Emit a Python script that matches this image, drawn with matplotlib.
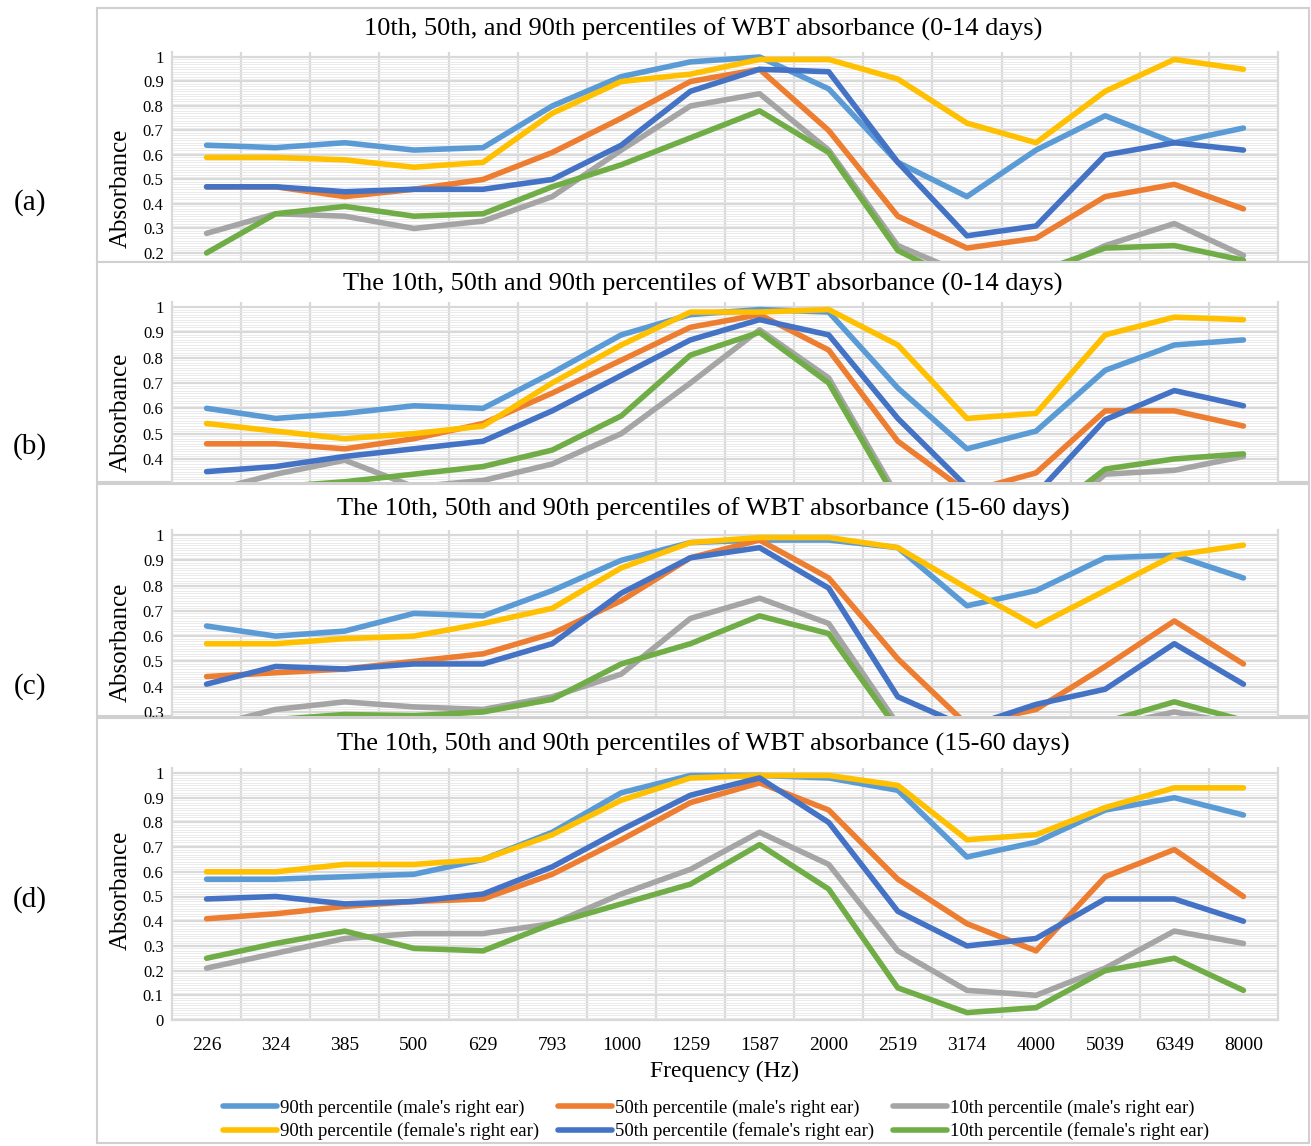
import numpy as np
import matplotlib
matplotlib.use("Agg")
import matplotlib.pyplot as plt
from matplotlib.patches import Rectangle
from matplotlib.ticker import FixedLocator

plt.rcParams['font.family'] = ['Liberation Serif', 'DejaVu Serif']

W, H = 1311, 1146

freqs = ['226', '324', '385', '500', '629', '793', '1000', '1259', '1587',
         '2000', '2519', '3174', '4000', '5039', '6349', '8000']

labels = ["90th percentile (male's right ear)", "50th percentile (male's right ear)",
          "10th percentile (male's right ear)", "90th percentile (female's right ear)",
          "50th percentile (female's right ear)", "10th percentile (female's right ear)"]
colors = ['#5B9BD5', '#ED7D31', '#A5A5A5', '#FFC000', '#4472C4', '#70AD47']

# (a) 0-14 days
m90_a = [0.64, 0.63, 0.65, 0.62, 0.63, 0.80, 0.92, 0.98, 1.00, 0.87, 0.57, 0.43, 0.62, 0.76, 0.65, 0.71]
m50_a = [0.47, 0.47, 0.43, 0.46, 0.50, 0.61, 0.75, 0.90, 0.95, 0.70, 0.35, 0.22, 0.26, 0.43, 0.48, 0.38]
m10_a = [0.28, 0.36, 0.35, 0.30, 0.33, 0.43, 0.62, 0.80, 0.85, 0.62, 0.23, 0.11, 0.10, 0.23, 0.32, 0.19]
f90_a = [0.59, 0.59, 0.58, 0.55, 0.57, 0.77, 0.90, 0.93, 0.99, 0.99, 0.91, 0.73, 0.65, 0.86, 0.99, 0.95]
f50_a = [0.47, 0.47, 0.45, 0.46, 0.46, 0.50, 0.64, 0.86, 0.95, 0.94, 0.57, 0.27, 0.31, 0.60, 0.65, 0.62]
f10_a = [0.20, 0.36, 0.39, 0.35, 0.36, 0.47, 0.56, 0.67, 0.78, 0.61, 0.21, 0.07, 0.12, 0.22, 0.23, 0.17]

# (b) 0-14 days
m90_b = [0.60, 0.56, 0.58, 0.61, 0.60, 0.74, 0.89, 0.97, 0.99, 0.98, 0.68, 0.44, 0.51, 0.75, 0.85, 0.87]
m50_b = [0.46, 0.46, 0.44, 0.48, 0.54, 0.66, 0.79, 0.92, 0.97, 0.83, 0.47, 0.27, 0.345, 0.59, 0.59, 0.53]
m10_b = [0.27, 0.34, 0.395, 0.29, 0.315, 0.38, 0.50, 0.70, 0.91, 0.72, 0.25, 0.15, 0.10, 0.34, 0.355, 0.41]
f90_b = [0.54, 0.51, 0.48, 0.50, 0.53, 0.70, 0.85, 0.98, 0.98, 0.99, 0.85, 0.56, 0.58, 0.89, 0.96, 0.95]
f50_b = [0.35, 0.37, 0.41, 0.44, 0.47, 0.59, 0.73, 0.87, 0.95, 0.89, 0.56, 0.29, 0.26, 0.555, 0.67, 0.61]
f10_b = [0.27, 0.29, 0.31, 0.34, 0.37, 0.435, 0.57, 0.81, 0.90, 0.70, 0.23, 0.12, 0.15, 0.36, 0.40, 0.42]

# (c) 15-60 days
m90_c = [0.64, 0.60, 0.62, 0.69, 0.68, 0.78, 0.90, 0.97, 0.98, 0.98, 0.95, 0.72, 0.78, 0.91, 0.92, 0.83]
m50_c = [0.44, 0.455, 0.47, 0.50, 0.53, 0.61, 0.74, 0.91, 0.98, 0.83, 0.51, 0.25, 0.31, 0.48, 0.66, 0.49]
m10_c = [0.24, 0.31, 0.34, 0.32, 0.31, 0.36, 0.45, 0.67, 0.75, 0.65, 0.25, 0.15, 0.12, 0.24, 0.30, 0.25]
f90_c = [0.57, 0.57, 0.59, 0.60, 0.65, 0.71, 0.87, 0.97, 0.99, 0.99, 0.95, 0.79, 0.64, 0.78, 0.92, 0.96]
f50_c = [0.41, 0.48, 0.47, 0.49, 0.49, 0.57, 0.77, 0.91, 0.95, 0.79, 0.36, 0.24, 0.33, 0.39, 0.57, 0.41]
f10_c = [0.26, 0.27, 0.29, 0.285, 0.30, 0.35, 0.49, 0.57, 0.68, 0.61, 0.23, 0.14, 0.12, 0.26, 0.34, 0.267]

# (d) 15-60 days
m90_d = [0.57, 0.57, 0.58, 0.59, 0.65, 0.76, 0.92, 0.99, 0.99, 0.98, 0.93, 0.66, 0.72, 0.85, 0.90, 0.83]
m50_d = [0.41, 0.43, 0.46, 0.48, 0.49, 0.59, 0.73, 0.88, 0.96, 0.85, 0.57, 0.39, 0.28, 0.58, 0.69, 0.50]
m10_d = [0.21, 0.27, 0.33, 0.35, 0.35, 0.39, 0.51, 0.61, 0.76, 0.63, 0.28, 0.12, 0.10, 0.21, 0.36, 0.31]
f90_d = [0.60, 0.60, 0.63, 0.63, 0.65, 0.75, 0.89, 0.98, 0.99, 0.99, 0.95, 0.73, 0.75, 0.86, 0.94, 0.94]
f50_d = [0.49, 0.50, 0.47, 0.48, 0.51, 0.62, 0.77, 0.91, 0.98, 0.80, 0.44, 0.30, 0.33, 0.49, 0.49, 0.40]
f10_d = [0.25, 0.31, 0.36, 0.29, 0.28, 0.39, 0.47, 0.55, 0.71, 0.53, 0.13, 0.03, 0.05, 0.20, 0.25, 0.12]

titles = ["10th, 50th, and 90th percentiles of WBT absorbance (0-14 days)",
          "The 10th, 50th and 90th percentiles of WBT absorbance (0-14 days)",
          "The 10th, 50th and 90th percentiles of WBT absorbance (15-60 days)",
          "The 10th, 50th and 90th percentiles of WBT absorbance (15-60 days)"]
tags = ['(a)', '(b)', '(c)', '(d)']

# panel layout in pixels: frame top/bottom, y of value 1, lowest visible value,
# plot bottom, title y, ylabel y, tag y
panels = [
    dict(ftop=8, fbot=262, y1=57, lo=0.163, pbot=262, ty=29, ly=188, gy=203),
    dict(ftop=262, fbot=482, y1=307, lo=0.309, pbot=482, ty=284, ly=412, gy=447),
    dict(ftop=484, fbot=716, y1=535, lo=0.284, pbot=716, ty=509, ly=642, gy=687),
    dict(ftop=718, fbot=1143, y1=773, lo=0.0, pbot=1020, ty=744, ly=890, gy=900),
]
series = [
    [m90_a, m50_a, m10_a, f90_a, f50_a, f10_a],
    [m90_b, m50_b, m10_b, f90_b, f50_b, f10_b],
    [m90_c, m50_c, m10_c, f90_c, f50_c, f10_c],
    [m90_d, m50_d, m10_d, f90_d, f50_d, f10_d],
]

fig = plt.figure(figsize=(W / 100, H / 100), dpi=100)
fig.patch.set_facecolor('white')

PL, PR = 172, 1278
FL, FR = 97, 1309
x = np.arange(len(freqs))
handles = []

for i, (p, data) in enumerate(zip(panels, series)):
    # chart frame
    fig.patches.append(Rectangle((FL / W, 1 - p['fbot'] / H), (FR - FL) / W,
                                 (p['fbot'] - p['ftop']) / H, transform=fig.transFigure,
                                 facecolor='white', edgecolor='#d0d0d0', lw=1.5,
                                 zorder=i * 3))
    scale = (p['pbot'] - p['y1']) / (1.0 - p['lo'])
    top = 1.02
    ytop = p['y1'] - (top - 1.0) * scale
    ax = fig.add_axes([PL / W, 1 - p['pbot'] / H, (PR - PL) / W, (p['pbot'] - ytop) / H])
    ax.set_zorder(i * 3 + 1)
    ax.set_facecolor('white')
    for j, vals in enumerate(data):
        ln, = ax.plot(x, vals, color=colors[j], lw=4.0, solid_capstyle='round',
                      solid_joinstyle='round', label=labels[j])
        if i == 3:
            handles.append(ln)
    ax.set_xlim(-0.5, 15.5)
    ax.set_ylim(p['lo'], top)

    majors = [round(v, 1) for v in np.arange(0, 1.01, 0.1) if v >= p['lo'] - 1e-9]
    minors = [v for v in np.arange(0, 1.0001, 0.01) if v >= p['lo'] and
              abs(v * 10 - round(v * 10)) > 1e-6]
    ax.yaxis.set_major_locator(FixedLocator(majors))
    ax.yaxis.set_minor_locator(FixedLocator(minors))
    ax.set_yticklabels(['1' if v == 1 else ('0' if v == 0 else f'{v:.1f}') for v in majors],
                       fontsize=12)
    ax.xaxis.set_major_locator(FixedLocator(x))
    ax.xaxis.set_minor_locator(FixedLocator(np.arange(0.5, 15, 1)))
    ax.tick_params(which='both', length=0)
    ax.tick_params(axis='y', pad=6)
    ax.grid(which='minor', axis='y', color='#e8e8e8', lw=0.6)
    ax.grid(which='major', axis='y', color='#d9d9d9', lw=1.6)
    ax.grid(which='minor', axis='x', color='#d9d9d9', lw=1.6)
    ax.set_axisbelow(True)
    for s in ['left', 'right', 'bottom']:
        ax.spines[s].set_color('#d9d9d9')
        ax.spines[s].set_linewidth(1.6)
    ax.spines['top'].set_visible(False)
    if i == 3:
        ax.set_xticklabels(freqs, fontsize=14)
        ax.tick_params(axis='x', pad=12)
        ax.set_xlabel('Frequency (Hz)', fontsize=17, labelpad=5)
    else:
        ax.set_xticklabels([])
        ax.spines['bottom'].set_visible(False)

    fig.text((FL + FR) / 2 / W, 1 - p['ty'] / H, titles[i], fontsize=19,
             ha='center', va='center', zorder=20)
    fig.text(121 / W, 1 - p['ly'] / H, 'Absorbance', fontsize=18, rotation=90,
             ha='center', va='center', zorder=20)
    fig.text(30 / W, 1 - p['gy'] / H, tags[i], fontsize=21, ha='center', va='center')

order = [0, 3, 1, 4, 2, 5]
leg = fig.legend([handles[k] for k in order], [labels[k] for k in order], ncol=3,
                 loc='center', bbox_to_anchor=(716 / W, 1 - 1120 / H), frameon=False,
                 fontsize=13.5, handlelength=2.9, handletextpad=0.15, columnspacing=1.0,
                 labelspacing=0.3)
leg.set_zorder(30)

fig.savefig('out.png', dpi=100)
